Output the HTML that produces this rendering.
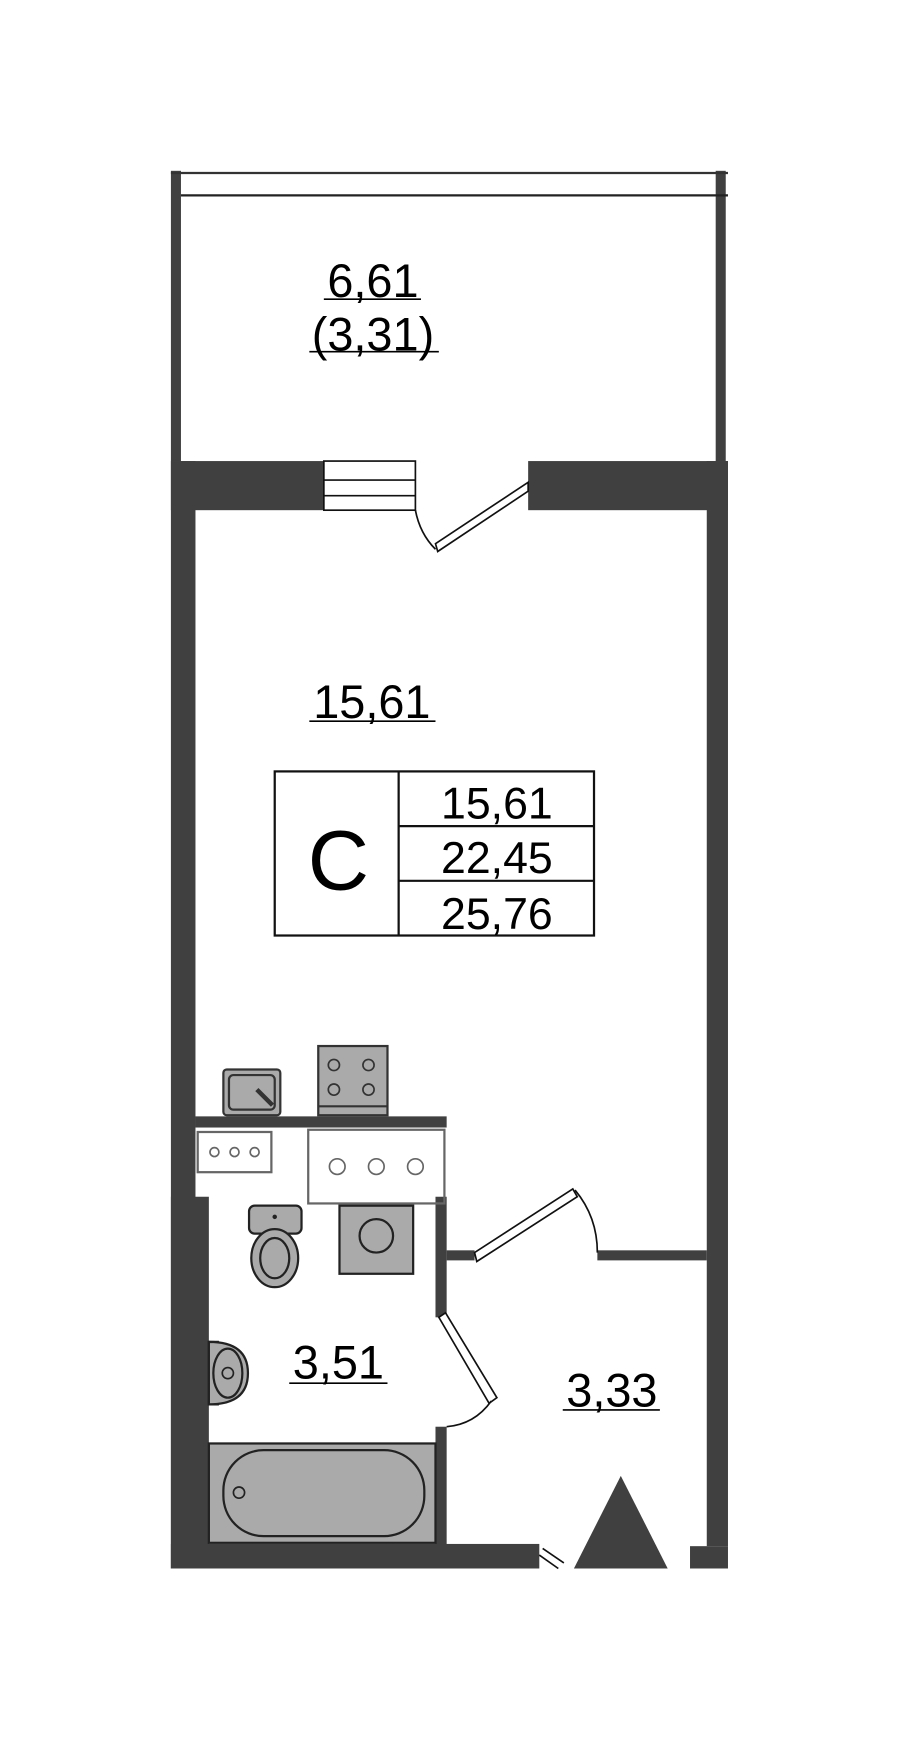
<!DOCTYPE html>
<html><head><meta charset="utf-8"><style>
html,body{margin:0;padding:0;background:#fff}
svg{display:block}
text{font-family:"Liberation Sans",sans-serif;fill:#000}
</style></head><body>
<svg width="900" height="1746" viewBox="0 0 806 1564" xmlns="http://www.w3.org/2000/svg">
<g fill="#404040">
<rect x="153" y="153" width="9" height="260"/>
<rect x="641" y="153" width="9" height="260"/>
<rect x="153" y="413" width="137" height="44"/>
<rect x="473" y="413" width="179" height="44"/>
<rect x="153" y="413" width="22" height="992"/>
<rect x="633" y="413" width="19" height="972"/>
<rect x="153" y="1072" width="34" height="333"/>
<rect x="153" y="1383" width="330" height="22"/>
<rect x="618" y="1385" width="34" height="20"/>
<rect x="175" y="1000" width="225" height="10"/>
<rect x="390" y="1072" width="10" height="108"/>
<rect x="390" y="1278" width="10" height="107"/>
<rect x="400" y="1120" width="25" height="9"/>
<rect x="535" y="1120" width="98" height="9"/>
<polygon points="556,1322 514,1405 598,1405"/>
</g>
<line x1="153" y1="155" x2="652" y2="155" stroke="#333" stroke-width="2"/>
<line x1="162" y1="175" x2="652" y2="175" stroke="#222" stroke-width="2"/>
<g stroke="#111" stroke-width="1.5" fill="none">
<rect x="290" y="413" width="82" height="44"/>
<line x1="290" y1="430" x2="372" y2="430"/>
<line x1="290" y1="444" x2="372" y2="444"/>
<path d="M372,457 Q376,478 390,492"/>
<polygon points="390,487 473,432 473,440 392,494" fill="#fff"/>
<polygon points="425,1122 513,1065 517,1072 427,1130" fill="#fff"/>
<path d="M515,1066 Q535,1090 535,1122"/>
<polygon points="393,1180 399,1176 445,1252 438,1257" fill="#fff"/>
<path d="M440,1255 Q425,1276 400,1278"/>
<line x1="486" y1="1387" x2="505" y2="1400"/>
<line x1="483" y1="1393" x2="500" y2="1405"/>
</g>
<text x="334" y="266" font-size="42" text-anchor="middle">6,61</text>
<line x1="290" y1="268" x2="377" y2="268" stroke="#000" stroke-width="1.5"/>
<text x="334" y="314" font-size="42" text-anchor="middle">(3,31)</text>
<line x1="277" y1="315" x2="393" y2="315" stroke="#000" stroke-width="1.5"/>
<text x="333" y="643" font-size="42" text-anchor="middle">15,61</text>
<line x1="277" y1="646" x2="390" y2="646" stroke="#000" stroke-width="1.5"/>
<g stroke="#111" stroke-width="2" fill="none">
<rect x="246" y="691" width="286" height="147"/>
<line x1="357" y1="691" x2="357" y2="838"/>
<line x1="357" y1="740" x2="532" y2="740"/>
<line x1="357" y1="789" x2="532" y2="789"/>
</g>
<text x="303" y="797" font-size="76" text-anchor="middle">C</text>
<text x="445" y="733" font-size="40" text-anchor="middle">15,61</text>
<text x="445" y="782" font-size="40" text-anchor="middle">22,45</text>
<text x="445" y="832" font-size="40" text-anchor="middle">25,76</text>
<g stroke="#333" stroke-width="2">
<rect x="200" y="958" width="51" height="41" rx="3" fill="#aaa"/>
<rect x="205" y="963" width="41" height="31" rx="4" fill="#aaa"/>
<line x1="230" y1="976" x2="244" y2="990" stroke-width="4"/>
<rect x="285" y="937" width="62" height="62" fill="#aaa"/>
<line x1="285" y1="991" x2="347" y2="991"/>
</g>
<g stroke="#333" stroke-width="1.5" fill="none">
<circle cx="299" cy="954" r="5"/><circle cx="330" cy="954" r="5"/>
<circle cx="299" cy="976" r="5"/><circle cx="330" cy="976" r="5"/>
<rect x="177" y="1014" width="66" height="36" stroke="#666" stroke-width="2"/>
<circle cx="192" cy="1032" r="4" stroke="#666"/><circle cx="210" cy="1032" r="4" stroke="#666"/><circle cx="228" cy="1032" r="4" stroke="#666"/>
<rect x="276" y="1012" width="122" height="66" stroke="#666" stroke-width="2"/>
<circle cx="302" cy="1045" r="7" stroke="#666"/><circle cx="337" cy="1045" r="7" stroke="#666"/><circle cx="372" cy="1045" r="7" stroke="#666"/>
</g>
<g stroke="#222" stroke-width="2" fill="#aaa">
<rect x="223" y="1080" width="47" height="25" rx="5"/>
<ellipse cx="246" cy="1127" rx="21" ry="26"/>
<ellipse cx="246" cy="1127" rx="13" ry="18"/>
<rect x="304" y="1080" width="66" height="61"/>
<circle cx="337" cy="1107" r="15"/>
<rect x="187" y="1202" width="8" height="56" fill="#aaa"/>
<path d="M187,1202 Q222,1202 222,1230 Q222,1258 187,1258 Z"/>
<ellipse cx="204" cy="1230" rx="13" ry="22"/>
<rect x="187" y="1293" width="203" height="89"/>
<rect x="200" y="1299" width="180" height="77" rx="36"/>
</g>
<circle cx="246" cy="1090" r="2" fill="#222"/>
<circle cx="204" cy="1230" r="5" fill="none" stroke="#222" stroke-width="1.5"/>
<circle cx="214" cy="1337" r="5" fill="none" stroke="#222" stroke-width="1.5"/>
<text x="303" y="1235" font-size="42" text-anchor="middle">3,51</text>
<line x1="259" y1="1239" x2="347" y2="1239" stroke="#000" stroke-width="1.5"/>
<text x="548" y="1260" font-size="42" text-anchor="middle">3,33</text>
<line x1="504" y1="1263" x2="591" y2="1263" stroke="#000" stroke-width="1.5"/>
</svg>
</body></html>
